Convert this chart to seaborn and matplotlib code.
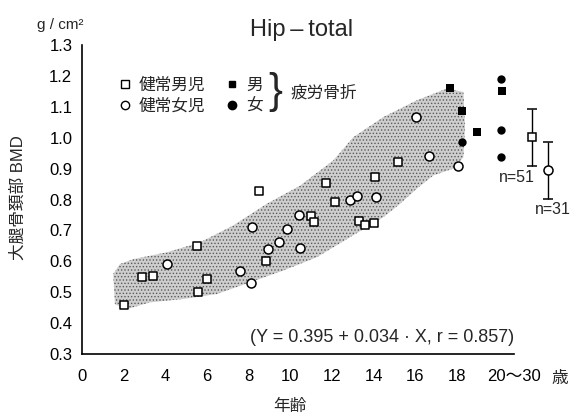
import numpy as np
import pandas as pd
import matplotlib
matplotlib.use('Agg')
import matplotlib.pyplot as plt
from matplotlib.lines import Line2D
import seaborn as sns

# healthy boys (open squares)
boy_age = [2.0, 2.9, 3.4, 5.5, 6.0, 5.55, 8.5, 8.85, 11.0, 11.15, 11.7, 12.15, 13.3, 13.6, 14.0, 14.05, 15.15]
boy_bmd = [0.46, 0.548, 0.553, 0.648, 0.543, 0.502, 0.829, 0.600, 0.748, 0.726, 0.853, 0.793, 0.729, 0.717, 0.723, 0.872, 0.920]

# healthy girls (open circles)
girl_age = [4.1, 7.6, 8.1, 8.15, 8.95, 9.45, 9.85, 10.4, 10.45, 12.85, 13.2, 14.1, 16.05, 16.65, 18.05]
girl_bmd = [0.591, 0.570, 0.530, 0.712, 0.639, 0.664, 0.703, 0.749, 0.642, 0.799, 0.810, 0.807, 1.067, 0.940, 0.910]

# stress fracture cases (filled)
frac_m_age = [17.65, 18.25, 18.95, 20.15]
frac_m_bmd = [1.161, 1.086, 1.019, 1.152]
frac_f_age = [18.25, 20.1, 20.1, 20.1]
frac_f_bmd = [0.986, 1.190, 1.026, 0.937]

# adult reference (20-30 yrs): mean +/- sd
adult_x = [21.6, 22.35]
adult_mean = [1.002, 0.894]
adult_sd = [0.092, 0.092]
adult_n = ['n=51', 'n=31']

# grey band of the normal range
band_age = [1.5, 1.82, 2.46, 4.07, 5.66, 7.26, 8.87, 10.47, 12.07, 13.03, 14.47, 16.07, 17.51, 18.31,
            18.39, 18.31, 17.83, 16.87, 16.07, 15.27, 14.47, 12.87, 11.27, 9.66, 8.07, 6.47, 4.86,
            3.26, 2.14, 1.58]
band_bmd = [0.559, 0.591, 0.607, 0.629, 0.661, 0.716, 0.786, 0.845, 0.927, 1.002, 1.067, 1.121, 1.159, 1.148,
            1.035, 0.937, 0.90, 0.878, 0.835, 0.786, 0.743, 0.678, 0.613, 0.570, 0.532, 0.494, 0.478,
            0.467, 0.445, 0.461]

xticks = [0, 2, 4, 6, 8, 10, 12, 14, 16, 18, 20.74]
xticklabels = ['0', '2', '4', '6', '8', '10', '12', '14', '16', '18', '20〜30']
yticks = [0.3, 0.4, 0.5, 0.6, 0.7, 0.8, 0.9, 1.0, 1.1, 1.2, 1.3]

sns.set_style('white')
plt.rcParams['font.family'] = ['Liberation Sans', 'Noto Sans CJK JP']
plt.rcParams['hatch.linewidth'] = 0.6

fig = plt.figure(figsize=(5.74, 4.16), dpi=100)
ax = fig.add_axes([82 / 574, 62 / 416, 488 / 574, 309 / 416])

ax.fill(band_age, band_bmd, facecolor='#cecece', edgecolor='#5a5a5a', hatch='.....', linewidth=0, zorder=1)

boys = pd.DataFrame({'age': boy_age, 'bmd': boy_bmd})
girls = pd.DataFrame({'age': girl_age, 'bmd': girl_bmd})
sns.scatterplot(data=boys, x='age', y='bmd', marker='s', s=32, facecolor='white', edgecolor='black',
                linewidth=1.1, ax=ax, zorder=3)
sns.scatterplot(data=girls, x='age', y='bmd', marker='o', s=42, facecolor='white', edgecolor='black',
                linewidth=1.1, ax=ax, zorder=3)
sns.scatterplot(x=frac_m_age, y=frac_m_bmd, marker='s', s=26, color='black', linewidth=0, ax=ax, zorder=3)
sns.scatterplot(x=frac_f_age, y=frac_f_bmd, marker='o', s=36, color='black', linewidth=0, ax=ax, zorder=3)

for x, m, sd, mk, ms in zip(adult_x, adult_mean, adult_sd, ['s', 'o'], [6, 6.5]):
    ax.errorbar(x, m, yerr=sd, fmt=mk, ms=ms, mfc='white', mec='black', mew=1.1, ecolor='black',
                elinewidth=1, capsize=3.5, capthick=1, zorder=3)
ax.text(adult_x[0] - 0.72, adult_mean[0] - adult_sd[0] - 0.04, adult_n[0], fontsize=11.5, ha='center', va='center')
ax.text(adult_x[1] + 0.26, adult_mean[1] - adult_sd[1] - 0.035, adult_n[1], fontsize=11.5, ha='center', va='center')

ax.set_xlim(0, 488 / 20.83)
ax.set_ylim(0.3, 1.3)
ax.set_xticks(xticks)
ax.set_xticklabels(xticklabels)
ax.set_yticks(yticks)
ax.set_yticklabels([f'{v:.1f}' for v in yticks])
ax.tick_params(direction='out', length=4, width=1, labelsize=12, colors='black')
ax.tick_params(axis='x', pad=7)
ax.tick_params(axis='y', pad=3)
for side in ['top', 'right']:
    ax.spines[side].set_visible(False)
ax.spines['left'].set_linewidth(1.2)
ax.spines['bottom'].set_linewidth(1.2)
ax.spines['left'].set_color('black')
ax.spines['bottom'].set_color('black')
ax.spines['bottom'].set_bounds(0, 20.74)

ax.set_xlabel('年齢', fontsize=12)
ax.xaxis.set_label_coords((290 - 82) / 488, -(399 - 354) / 309)
ax.set_ylabel('大腿骨頚部 BMD', fontsize=12)
ax.yaxis.set_label_coords(-(82 - 26) / 488, 0.505)

fig.text(60 / 574, 1 - 25 / 416, 'g / cm²', fontsize=11, ha='center', va='center')
fig.text(302 / 574, 1 - 30 / 416, 'Hip\u2009–\u2009total', fontsize=17, ha='center', va='center')
fig.text(560 / 574, 1 - 379 / 416, '歳', fontsize=12, ha='center', va='center')
fig.text(382 / 574, 1 - 338 / 416, '(Y = 0.395 + 0.034 · X, r = 0.857)', fontsize=13, ha='center', va='center')

handles = [
    Line2D([], [], ls='none', marker='s', ms=5.5, mfc='white', mec='black', mew=1),
    Line2D([], [], ls='none', marker='o', ms=6, mfc='white', mec='black', mew=1),
    Line2D([], [], ls='none', marker='s', ms=5, mfc='black', mec='black'),
    Line2D([], [], ls='none', marker='o', ms=6, mfc='black', mec='black'),
]
labels = ['健常男児', '健常女児', '男', '女']
ax.legend(handles, labels, ncol=2, loc='upper left', bbox_to_anchor=((118 - 82) / 488, (354 - 78) / 309),
          frameon=False, fontsize=12, borderpad=0, borderaxespad=0, handlelength=0.8, handletextpad=0.45,
          columnspacing=1.2, labelspacing=0.3)
fig.text(275 / 574, 1 - 92 / 416, '}', fontsize=30, ha='center', va='center')
fig.text(290 / 574, 1 - 93 / 416, '疲労骨折', fontsize=12, ha='left', va='center')

fig.savefig('out.png', dpi=100)
